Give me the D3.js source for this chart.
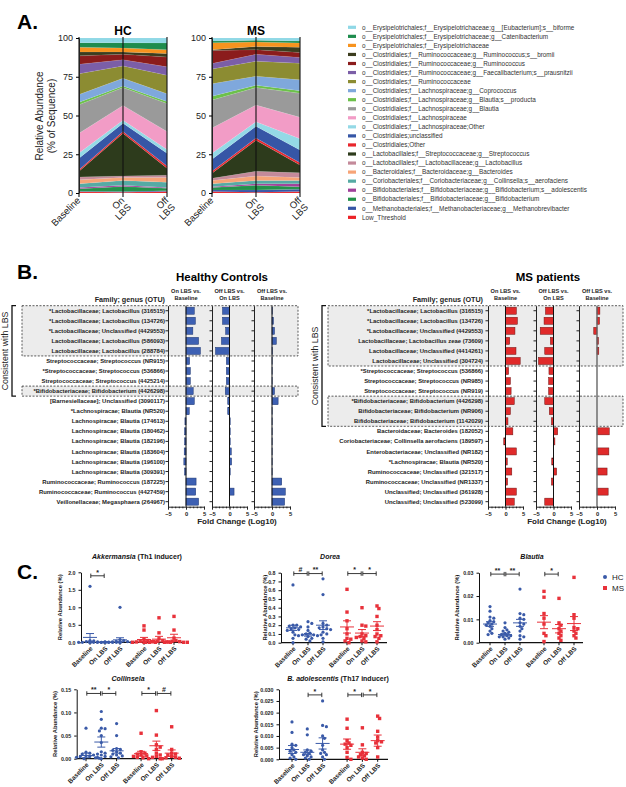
<!DOCTYPE html>
<html><head><meta charset="utf-8">
<script src="https://cdn.jsdelivr.net/npm/d3@7"></script>
<style>body{margin:0;background:#fff} svg{display:block;font-family:"Liberation Sans",Arial,Helvetica,sans-serif}</style>
</head><body><svg id="c" width="626" height="787"></svg>
<script>
// ---------------- Panel A data ----------------
const timepoints = ["Baseline", "On LBS", "Off LBS"];
const taxa = [
"o__Erysipelotrichales;f__Erysipelotrichaceae;g__[Eubacterium];s__biforme",
"o__Erysipelotrichales;f__Erysipelotrichaceae;g__Catenibacterium",
"o__Erysipelotrichales;f__Erysipelotrichaceae",
"o__Clostridiales;f__Ruminococcaceae;g__Ruminococcus;s__bromii",
"o__Clostridiales;f__Ruminococcaceae;g__Ruminococcus",
"o__Clostridiales;f__Ruminococcaceae;g__Faecalibacterium;s__prausnitzii",
"o__Clostridiales;f__Ruminococcaceae",
"o__Clostridiales;f__Lachnospiraceae;g__Coprococcus",
"o__Clostridiales;f__Lachnospiraceae;g__Blautia;s__producta",
"o__Clostridiales;f__Lachnospiraceae;g__Blautia",
"o__Clostridiales;f__Lachnospiraceae",
"o__Clostridiales;f__Lachnospiraceae;Other",
"o__Clostridiales;unclassified",
"o__Clostridiales;Other",
"o__Lactobacillales;f__Streptococcaceae;g__Streptococcus",
"o__Lactobacillales;f__Lactobacillaceae;g__Lactobacillus",
"o__Bacteroidales;f__Bacteroidaceae;g__Bacteroides",
"o__Coriobacteriales;f__Coriobacteriaceae;g__Collinsella;s__aerofaciens",
"o__Bifidobacteriales;f__Bifidobacteriaceae;g__Bifidobacterium;s__adolescentis",
"o__Bifidobacteriales;f__Bifidobacteriaceae;g__Bifidobacterium",
"o__Methanobacteriales;f__Methanobacteriaceae;g__Methanobrevibacter",
"Low_Threshold"];
const taxaColors = ["#8fd8e6","#1e8c4e","#f7931e","#3c3d1e","#8b1c1c","#7b5ea7","#8c8c32","#7fa8dc","#6cc04a","#9a9a9a","#f29cc6","#94d9e6","#3656a6","#e8262c","#2d3b1c","#c48a9a","#f7a477","#55aaa4","#a0409a","#23924a","#3656a6","#ec2227"];
// values in legend order (top of stack first), % of sequence
const hcBaseline = [3.0,3.0,3.0,2.5,5.5,6.0,13.5,5.0,1.5,18.5,12.7,3.3,7.5,1.0,3.7,1.8,2.5,2.5,0.7,1.6,0.4,0.8];
const hcOnLBS    = [3.0,3.5,2.5,1.5,3.5,4.0,8.0,5.0,1.0,11.5,9.5,2.0,5.3,1.2,27.5,1.0,2.0,3.0,0.8,3.2,0.5,0.5];
const hcOffLBS   = [3.2,4.3,2.5,2.2,6.4,5.4,12.0,5.0,1.2,18.2,11.6,2.3,8.2,1.5,4.5,1.5,3.0,3.5,0.5,1.5,0.5,1.0];
const msBaseline = [2.0,1.0,4.5,0.5,8.5,3.5,9.5,8.0,2.5,18.0,16.3,3.9,7.8,1.2,3.3,1.5,2.0,2.0,0.5,1.5,1.0,1.0];
const msOnLBS    = [1.5,1.0,3.0,2.0,3.0,4.5,9.6,5.9,1.5,11.3,10.7,3.0,7.5,1.5,20.0,3.0,3.0,2.0,1.0,3.0,1.5,0.5];
const msOffLBS   = [2.0,1.2,2.8,3.3,3.2,3.8,10.7,7.0,1.7,15.5,13.8,7.3,8.2,1.5,5.0,3.0,2.0,2.0,2.0,1.5,1.5,1.0];
const abundanceTicks = [0,25,50,75,100];

// ---------------- Panel B data ----------------
const hcOTUs = [
"*Lactobacillaceae; Lactobacillus (316515)",
"*Lactobacillaceae; Lactobacillus (134726)",
"*Lactobacillaceae; Unclassified (4429553)",
"Lactobacillaceae; Lactobacillus (586093)",
"Lactobacillaceae; Lactobacillus (288784)",
"Streptococcaceae; Streptococcus (NR915)",
"*Streptococcaceae; Streptococcus (536866)",
"Streptococcaceae; Streptococcus (4425214)",
"*Bifidobacteriaceae; Bifidobacterium (4426298)",
"[Barnesiellaceae]; Unclassified (3090117)",
"*Lachnospiracae; Blautia (NR520)",
"Lachnospiracae; Blautia (174613)",
"Lachnospiracae; Blautia (180462)",
"Lachnospiracae; Blautia (182196)",
"Lachnospiracae; Blautia (183604)",
"Lachnospiracae; Blautia (196100)",
"Lachnospiracae; Blautia (309391)",
"Ruminococcaceae; Ruminococcus (187225)",
"Ruminococcaceae; Ruminococcus (4427459)",
"Veillonellaceae; Megasphaera (264967)"];
const hcOnVsBase  = [2.3,2.6,1.9,3.5,4.0,1.0,1.2,1.2,2.0,2.3,0.9,-0.3,-0.4,-0.4,-0.5,-0.6,-0.4,2.8,2.7,3.5];
const hcOffVsOn   = [-2.0,-2.0,-1.1,-2.3,-4.0,-0.9,-0.9,-0.9,-1.2,-0.5,-0.5,0.2,0.2,0.2,0.5,0.6,0.2,0.0,1.3,0.0];
const hcOffVsBase = [0.1,0.4,0.7,1.2,0.1,0.05,0.05,0.05,0.7,1.7,0.05,0.05,0.05,0.05,0.05,0.05,0.05,2.7,3.7,3.5];
const msOTUs = [
"*Lactobacillaceae; Lactobacillus (316515)",
"*Lactobacillaceae; Lactobacillus (134726)",
"*Lactobacillaceae; Unclassified (4429553)",
"Lactobacillaceae; Lactobacillus zeae (73609)",
"Lactobacillaceae; Unclassified (4414261)",
"Lactobacillaceae; Unclassified (304724)",
"*Streptococcaceae; Streptococcus (536866)",
"Streptococcaceae; Streptococcus (NR985)",
"Streptococcaceae; Streptococcus (NR919)",
"*Bifidobacteriaceae; Bifidobacterium (4426298)",
"Bifidobacteriaceae; Bifidobacterium (NR906)",
"Bifidobacteriaceae; Bifidobacterium (1142029)",
"Bacteroidaceae; Bacteroides (182052)",
"Coriobacteriaceae; Collinsella aerofaciens (189597)",
"Enterobacteriaceae; Unclassified (NR182)",
"*Lachnospiracae; Blautia (NR520)",
"Ruminococcaceae; Unclassified (321517)",
"Ruminococcaceae; Unclassified (NR1337)",
"Unclassified; Unclassified (361928)",
"Unclassified; Unclassified (523099)"];
const msOnVsBase  = [3.1,3.4,2.7,1.2,3.0,4.2,0.9,1.4,1.6,2.5,1.4,0.7,2.1,-0.5,3.1,0.5,1.8,0.6,3.1,2.5];
const msOffVsOn   = [-2.3,-2.7,-3.8,-0.9,-2.5,-4.3,-1.3,-1.4,-1.4,-2.5,-1.2,-0.6,1.2,0.4,0.0,-0.5,0.9,-0.6,0.0,-2.5];
const msOffVsBase = [0.8,0.7,-0.9,0.4,0.5,0.0,0.0,0.0,0.0,0.0,0.0,0.0,3.4,0.0,3.3,0.0,2.8,0.0,3.1,0.0];
const comparisons = [["On LBS vs.","Baseline"],["Off LBS vs.","On LBS"],["Off LBS vs.","Baseline"]];
const foldTicks = [-5,0,5];

// ---------------- Panel C data ----------------
const groupLabels = ["Baseline","On LBS","Off LBS","Baseline","On LBS","Off LBS"];
const akkHC = [[1.6,0.05,0.04,0.02,0.01,0,0,0,0,0,0,0,0],[0.01,0.005,0,0,0,0,0,0,0,0,0,0],[1.0,0.08,0.05,0.03,0.02,0.01,0,0,0,0,0,0]];
const akkMS = [[0.47,0.35,0.08,0.05,0.03,0.02,0.01,0,0,0],[0.7,0.27,0.1,0.05,0.03,0.02,0.01,0,0,0],[0.74,0.35,0.12,0.05,0.03,0.02,0.01,0,0,0]];
const akkMean = [0.14,0.005,0.07,0.08,0.09,0.13];
const akkSEM  = [0.11,0.003,0.06,0.06,0.08,0.1];
const akkSig = [[0,1,"*"]];
const doreaHC = [[0.66,0.2,0.2,0.19,0.18,0.17,0.16,0.15,0.14,0.12,0.09,0.05,0.0],[0.24,0.22,0.18,0.14,0.11,0.1,0.09,0.09,0.08,0.08,0.07,0.05,0.04,0.02],[0.73,0.55,0.22,0.2,0.18,0.17,0.16,0.15,0.12,0.1,0.09,0.05,0.01]];
const doreaMS = [[0.61,0.35,0.25,0.16,0.1,0.05,0.04,0.02,0.0],[0.4,0.2,0.19,0.1,0.08,0.07,0.06,0.05,0.02,0.01],[0.42,0.39,0.3,0.2,0.15,0.1,0.08,0.07,0.05,0.01]];
const doreaMean = [0.17,0.09,0.2,0.18,0.11,0.19];
const doreaSEM  = [0.03,0.015,0.05,0.07,0.04,0.05];
const doreaSig = [[0,1,"#"],[1,2,"**"],[3,4,"*"],[4,5,"*"]];
const blautiaHC = [[0.0155,0.0135,0.011,0.0105,0.0095,0.009,0.0085,0.008,0.0075,0.007,0.006,0.005,0.004,0.0035],[0.0085,0.0065,0.0055,0.005,0.0045,0.004,0.0035,0.003,0.003,0.0025,0.0025,0.002,0.0015],[0.023,0.0125,0.012,0.0105,0.01,0.0085,0.008,0.007,0.006,0.005,0.003,0.0025,0.0015]];
const blautiaMS = [[0.022,0.0195,0.0125,0.0105,0.008,0.004,0.003,0.0005],[0.019,0.0085,0.0075,0.006,0.005,0.004,0.003,0.002,0.001],[0.028,0.012,0.0105,0.0065,0.006,0.005,0.004,0.003,0.002]];
const blautiaMean = [0.008,0.0035,0.0085,0.0088,0.006,0.0082];
const blautiaSEM  = [0.001,0.0005,0.0015,0.0028,0.0018,0.003];
const blautiaSig = [[0,1,"**"],[1,2,"**"],[3,4,"*"]];
const collHC = [[0.066,0.014,0.012,0.01,0.008,0.006,0.005,0.004,0.003,0.002,0.001,0.0],[0.102,0.085,0.066,0.065,0.06,0.05,0.035,0.015,0.012,0.01,0.008,0.005,0.003,0.0],[0.076,0.05,0.022,0.02,0.018,0.015,0.012,0.01,0.008,0.006,0.004,0.002]];
const collMS = [[0.055,0.015,0.012,0.01,0.008,0.006,0.005,0.003,0.002,0.0],[0.104,0.051,0.03,0.025,0.02,0.012,0.008,0.005,0.003,0.0],[0.069,0.02,0.012,0.01,0.008,0.005,0.003,0.002,0.001,0.0]];
const collMean = [0.007,0.036,0.017,0.011,0.028,0.012];
const collSEM  = [0.005,0.011,0.005,0.005,0.01,0.007];
const collSig = [[0,1,"**"],[1,2,"*"],[3,4,"*"],[4,5,"#"]];
const adolHC = [[0.016,0.0115,0.0065,0.006,0.005,0.004,0.0035,0.003,0.002,0.001,0.0005,0.0],[0.013,0.0105,0.004,0.0035,0.003,0.0025,0.002,0.0015,0.001,0.0005,0.0],[0.025,0.0145,0.014,0.01,0.009,0.006,0.004,0.003,0.0025,0.002,0.001,0.0]];
const adolMS = [[0.0172,0.0133,0.008,0.007,0.0065,0.006,0.005,0.003,0.0008,0.0],[0.0135,0.0062,0.003,0.0025,0.002,0.0015,0.001,0.0005,0.0],[0.0185,0.0175,0.012,0.0095,0.008,0.0075,0.007,0.005,0.001]];
const adolMean = [0.0042,0.003,0.0068,0.0065,0.003,0.008];
const adolSEM  = [0.0017,0.001,0.0024,0.0022,0.0015,0.0024];
const adolSig = [[1,2,"*"],[3,4,"*"],[4,5,"*"]];

// =====================================================
const svg = d3.select("#c");
const BLUE = "#3a5aa8", RED = "#e8313a";
svg.append("rect").attr("width",626).attr("height",787).attr("fill","#fff");
function panelLabel(t,x,y){ svg.append("text").attr("x",x).attr("y",y).attr("font-size",21).attr("font-weight","bold").text(t); }
panelLabel("A.",17,29); panelLabel("B.",17,279); panelLabel("C.",17,579);

// ---------------- Panel A ----------------
const yA = d3.scaleLinear().domain([0,100]).range([193,38]);
const stackKeys = taxa.slice().reverse();
function drawStack(title, cols, x0, x1){
  const x = d3.scalePoint().domain(timepoints).range([x0,x1]);
  const rows = timepoints.map((tp,i)=>{ const o={tp}; taxa.forEach((k,j)=>o[k]=cols[i][j]); return o; });
  const series = d3.stack().keys(stackKeys)(rows);
  const area = d3.area().x(d=>x(d.data.tp)).y0(d=>yA(d[0])).y1(d=>yA(d[1]));
  const g = svg.append("g");
  g.selectAll("path.l").data(series).join("path").attr("d",area)
    .attr("fill",d=>taxaColors[taxa.indexOf(d.key)]).attr("stroke","rgba(255,255,255,0.25)").attr("stroke-width",0.3);
  timepoints.forEach(tp=>{
    g.append("line").attr("x1",x(tp)).attr("x2",x(tp)).attr("y1",37).attr("y2",197).attr("stroke","#111").attr("stroke-width",1.1);
  });
  g.append("g").attr("transform",`translate(${x0},0)`).call(d3.axisLeft(yA).tickValues(abundanceTicks).tickSize(3).tickSizeOuter(0))
    .call(a=>{a.selectAll("text").attr("font-size",9).attr("font-family","Liberation Sans, Arial").attr("fill","#222"); a.select(".domain").attr("stroke","#222");});
  svg.append("text").attr("x",(x0+x1)/2).attr("y",35).attr("text-anchor","middle").attr("font-size",12).attr("font-weight","bold").text(title);
  const labs = [["Baseline"],["On","LBS"],["Off","LBS"]];
  timepoints.forEach((tp,i)=>{
    const t = svg.append("text").attr("transform",`translate(${x(tp)+2},${201}) rotate(-45)`).attr("text-anchor","end").attr("font-size",9.5).attr("fill","#222");
    labs[i].forEach((s,k)=>t.append("tspan").attr("x",0).attr("dy",k?"1.0em":0).text(s));
  });
}
drawStack("HC",[hcBaseline,hcOnLBS,hcOffLBS],79,167);
drawStack("MS",[msBaseline,msOnLBS,msOffLBS],212,300);
svg.append("text").attr("transform","translate(43,116) rotate(-90)").attr("text-anchor","middle").attr("font-size",10).attr("fill","#222").text("Relative Abundance");
svg.append("text").attr("transform","translate(55,116) rotate(-90)").attr("text-anchor","middle").attr("font-size",10).attr("fill","#222").text("(% of Sequence)");
// legend
taxa.forEach((t,i)=>{
  const y = 27.3 + i*9.05;
  svg.append("rect").attr("x",348).attr("y",y-1.6).attr("width",8).attr("height",3.2).attr("fill",taxaColors[i]);
  svg.append("text").attr("x",362).attr("y",y+2.2).attr("font-size",6.4).attr("fill","#333").text(t);
});

// ---------------- Panel B ----------------
function drawFold(cfg){
  const band = d3.scaleBand().domain(cfg.labels).range([305.7,506.7]).paddingInner(0.3).paddingOuter(0.15);
  const step = band.step();
  const top = 305.7, bottom = 506.7;
  // gray boxes
  cfg.boxes.forEach(([a,b])=>{
    svg.append("rect").attr("x",cfg.boxX0).attr("width",cfg.boxX1-cfg.boxX0)
      .attr("y",top+a*step).attr("height",(b-a+1)*step)
      .attr("fill","#ececec").attr("stroke","#333").attr("stroke-width",0.8).attr("stroke-dasharray","2,1.5");
  });
  // title & headers
  svg.append("text").attr("x",cfg.titleX).attr("y",281).attr("text-anchor","middle").attr("font-size",11.5).attr("font-weight","bold").text(cfg.title);
  svg.append("text").attr("x",cfg.labelX).attr("y",302).attr("text-anchor","end").attr("font-size",7.2).attr("font-weight","bold").attr("fill","#222").text("Family; genus (OTU)");
  // row labels
  cfg.labels.forEach(l=>{
    svg.append("text").attr("x",cfg.labelX).attr("y",band(l)+band.bandwidth()/2+2.1).attr("text-anchor","end")
      .attr("font-size",5.9).attr("font-weight","bold").attr("fill","#222").text(l);
  });
  cfg.cols.forEach((vals,ci)=>{
    const [l,r] = cfg.ranges[ci];
    const x = d3.scaleLinear().domain([-5,5]).range([l,r]);
    // header
    const h = svg.append("text").attr("x",x(0)).attr("y",293).attr("text-anchor","middle").attr("font-size",5.6).attr("font-weight","bold").attr("fill","#222");
    comparisons[ci].forEach((s,k)=>h.append("tspan").attr("x",x(0)).attr("dy",k?7:0).text(s));
    // bars
    svg.append("g").selectAll("rect").data(vals).join("rect")
      .attr("x",d=>x(Math.min(0,d))).attr("width",d=>Math.abs(x(d)-x(0)))
      .attr("y",(d,i)=>band(cfg.labels[i])).attr("height",band.bandwidth())
      .attr("fill",cfg.fill).attr("stroke",cfg.stroke).attr("stroke-width",0.5);
    // zero line
    svg.append("line").attr("x1",x(0)).attr("x2",x(0)).attr("y1",top).attr("y2",bottom).attr("stroke",cfg.zeroColor[ci]).attr("stroke-width",cfg.zeroW[ci]);
    // left axis with row ticks
    svg.append("g").attr("transform",`translate(${l},0)`).call(d3.axisLeft(band).tickFormat("").tickSize(2.5).tickSizeOuter(0))
      .call(a=>{a.selectAll("line,path").attr("stroke","#222");});
    // bottom axis
    svg.append("g").attr("transform",`translate(0,${bottom})`).call(d3.axisBottom(x).ticks(10).tickFormat("").tickSize(1.6).tickSizeOuter(0))
      .call(a=>a.selectAll("line,path").attr("stroke","#222"));
    svg.append("g").attr("transform",`translate(0,${bottom})`).call(d3.axisBottom(x).tickValues(foldTicks).tickSize(3).tickSizeOuter(0))
      .call(a=>{a.select(".domain").remove(); a.selectAll("line").attr("stroke","#222");
        a.selectAll("text").attr("font-size",5.8).attr("font-weight","bold").attr("font-family","Liberation Sans, Arial").attr("dy","0.5em").attr("fill","#222");});
  });
  svg.append("text").attr("x",cfg.fcX).attr("y",524).attr("text-anchor","middle").attr("font-size",8).attr("font-weight","bold").attr("fill","#222").text("Fold Change (Log10)");
  // bracket
  const bx = cfg.bracketX, by0 = top, by1 = top + cfg.bracketRows*step;
  svg.append("path").attr("d",`M${bx+4},${by0}H${bx}V${by1}H${bx+4}`).attr("fill","none").attr("stroke","#111").attr("stroke-width",1.3);
  svg.append("text").attr("transform",`translate(${bx-4},${(by0+by1)/2}) rotate(-90)`).attr("text-anchor","middle").attr("font-size",8.8).attr("fill","#222").text("Consistent with LBS");
}
drawFold({labels:hcOTUs, cols:[hcOnVsBase,hcOffVsOn,hcOffVsBase], ranges:[[168,204],[212,247],[254,290]],
  boxes:[[0,4],[8,8]], boxX0:22, boxX1:298, title:"Healthy Controls", titleX:222, labelX:165, fcX:237,
  fill:"#3d60b3", stroke:"#1d346e", zeroColor:["#111","#111","#111"], zeroW:[1,1,1], bracketX:12, bracketRows:9});
drawFold({labels:msOTUs, cols:[msOnVsBase,msOffVsOn,msOffVsBase], ranges:[[488,523],[536,571],[579,615]],
  boxes:[[0,5],[9,11]], boxX0:328, boxX1:623, title:"MS patients", titleX:548, labelX:483, fcX:567,
  fill:"#e02a2a", stroke:"#6e1515", zeroColor:["#111","#111","#666"], zeroW:[1,1,1.4], bracketX:322, bracketRows:12});

// ---------------- Panel C ----------------
const groupPos = [0,1,2,3.6,4.6,5.6];
function drawDot(cfg){
  const y = d3.scaleLinear().domain([0,cfg.max]).range([cfg.y0,cfg.yTop]);
  const x = i => cfg.x0 + groupPos[i]*cfg.step;
  const g = svg.append("g");
  // y axis
  g.append("g").attr("transform",`translate(${cfg.ax},0)`).call(d3.axisLeft(y).tickValues(cfg.ticks).tickFormat(d3.format(cfg.fmt)).tickSize(2.5).tickSizeOuter(0))
    .call(a=>{a.selectAll("text").attr("font-size",5.3).attr("font-weight","bold").attr("font-family","Liberation Sans, Arial").attr("fill","#222");
      a.selectAll("line,path").attr("stroke","#111").attr("stroke-width",1);});
  // x axis
  g.append("line").attr("x1",cfg.ax).attr("x2",cfg.xEnd).attr("y1",cfg.y0).attr("y2",cfg.y0).attr("stroke","#111").attr("stroke-width",1.3);
  groupLabels.forEach((lab,i)=>{
    g.append("line").attr("x1",x(i)).attr("x2",x(i)).attr("y1",cfg.y0).attr("y2",cfg.y0+2.5).attr("stroke","#111");
    g.append("text").attr("transform",`translate(${x(i)+1.5},${cfg.y0+5}) rotate(-45)`).attr("text-anchor","end").attr("dy","0.35em")
      .attr("font-size",6.4).attr("font-weight","bold").attr("fill","#222").text(lab);
  });
  // y label
  g.append("text").attr("transform",`translate(${cfg.labX},${(cfg.y0+cfg.yTop)/2}) rotate(-90)`).attr("text-anchor","middle")
    .attr("font-size",5.8).attr("font-weight","bold").attr("fill","#222").text("Relative Abundance (%)");
  // title
  const t = g.append("text").attr("x",cfg.titleX).attr("y",cfg.titleY).attr("text-anchor","middle").attr("font-size",7).attr("font-weight","bold").attr("fill","#111");
  t.append("tspan").attr("font-style","italic").text(cfg.title);
  if (cfg.sub) t.append("tspan").text(cfg.sub);
  // points with simple swarm layout
  const groups = [...cfg.hc, ...cfg.ms];
  groups.forEach((vals,gi)=>{
    const isHC = gi < 3, col = isHC ? BLUE : RED;
    const placed = [];
    const sorted = vals.slice().sort((a,b)=>b-a);
    sorted.forEach(v=>{
      const py = y(v);
      let off = 0;
      const cands = [0]; for (let k=1;k<8;k++){ cands.push(k*1.9, -k*1.9); }
      for (const c of cands){
        if (placed.every(p=>Math.hypot(p[0]-c,p[1]-py) > 3.0)) { off = c; break; }
      }
      placed.push([off,py]);
      if (isHC) g.append("circle").attr("cx",x(gi)+off).attr("cy",py).attr("r",1.6).attr("fill",col);
      else g.append("rect").attr("x",x(gi)+off-1.7).attr("y",py-1.7).attr("width",3.4).attr("height",3.4).attr("fill",col);
    });
    // mean and sem
    const m = cfg.mean[gi], s = cfg.sem[gi], cx = x(gi);
    g.append("line").attr("x1",cx-7).attr("x2",cx+7).attr("y1",y(m)).attr("y2",y(m)).attr("stroke",col).attr("stroke-width",1);
    g.append("line").attr("x1",cx).attr("x2",cx).attr("y1",y(Math.max(0,m-s))).attr("y2",y(m+s)).attr("stroke",col).attr("stroke-width",1);
    [m+s, Math.max(0,m-s)].forEach(v=>g.append("line").attr("x1",cx-4).attr("x2",cx+4).attr("y1",y(v)).attr("y2",y(v)).attr("stroke",col).attr("stroke-width",1));
  });
  // significance brackets
  cfg.sig.forEach(([a,b,lab])=>{
    const yy = y(cfg.sigY), xa = x(a)+0.8, xb = x(b)-0.8;
    g.append("line").attr("x1",xa).attr("x2",xb).attr("y1",yy).attr("y2",yy).attr("stroke","#222").attr("stroke-width",0.9);
    [xa,xb].forEach(xx=>g.append("line").attr("x1",xx).attr("x2",xx).attr("y1",yy-2.2).attr("y2",yy+2.2).attr("stroke","#222").attr("stroke-width",0.9));
    g.append("text").attr("x",(xa+xb)/2).attr("y",yy-1.2).attr("text-anchor","middle").attr("font-size",7).attr("font-weight","bold").attr("fill","#222").text(lab);
  });
}
drawDot({hc:akkHC, ms:akkMS, mean:akkMean, sem:akkSEM, sig:akkSig, sigY:1.9, max:2.0, ticks:[0,0.5,1,1.5,2], fmt:".1f",
  y0:642.3, yTop:572.3, ax:81, x0:90, step:15, xEnd:185, labX:62, title:"Akkermansia", sub:" (Th1 inducer)", titleX:137, titleY:559});
drawDot({hc:doreaHC, ms:doreaMS, mean:doreaMean, sem:doreaSEM, sig:doreaSig, sigY:0.79, max:0.8, ticks:d3.range(0,0.81,0.1), fmt:".1f",
  y0:642.7, yTop:572.7, ax:281, x0:293, step:15, xEnd:387, labX:267, title:"Dorea", titleX:330, titleY:559});
drawDot({hc:blautiaHC, ms:blautiaMS, mean:blautiaMean, sem:blautiaSEM, sig:blautiaSig, sigY:0.0294, max:0.03, ticks:[0,0.01,0.02,0.03], fmt:".2f",
  y0:642.7, yTop:572.7, ax:479, x0:490, step:15, xEnd:583, labX:459, title:"Blautia", titleX:532, titleY:559});
drawDot({hc:collHC, ms:collMS, mean:collMean, sem:collSEM, sig:collSig, sigY:0.141, max:0.15, ticks:[0,0.05,0.1,0.15], fmt:".2f",
  y0:758.7, yTop:689.3, ax:76.7, x0:86, step:15.3, xEnd:182, labX:57, title:"Collinsela", titleX:128, titleY:681});
drawDot({hc:adolHC, ms:adolMS, mean:adolMean, sem:adolSEM, sig:adolSig, sigY:0.0276, max:0.03, ticks:d3.range(0,0.0301,0.005), fmt:".3f",
  y0:759.3, yTop:689.3, ax:279, x0:292, step:15.3, xEnd:388, labX:258, title:"B. adolescentis", sub:" (Th17 inducer)", titleX:338, titleY:681});
// legend HC / MS
svg.append("circle").attr("cx",605).attr("cy",577).attr("r",2).attr("fill",BLUE);
svg.append("text").attr("x",612).attr("y",580).attr("font-size",8).attr("fill","#222").text("HC");
svg.append("rect").attr("x",603).attr("y",586).attr("width",4).attr("height",4).attr("fill",RED);
svg.append("text").attr("x",612).attr("y",591).attr("font-size",8).attr("fill","#222").text("MS");
</script></body></html>
